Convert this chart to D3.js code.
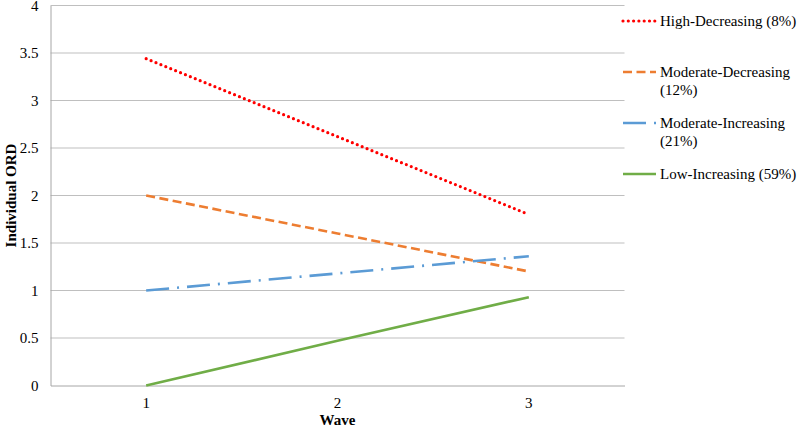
<!DOCTYPE html>
<html>
<head>
<meta charset="utf-8">
<script src="https://cdn.jsdelivr.net/npm/d3@7"></script>
<style>
  body { margin: 0; background: #fff; }
  text { font-family: "Liberation Serif", "Times New Roman", serif; fill: #000; }
</style>
</head>
<body>
<svg id="chart" width="800" height="430"></svg>
<script>
// data
var waves = ["1", "2", "3"];
var yTicks = [0, 0.5, 1, 1.5, 2, 2.5, 3, 3.5, 4];
var highDecreasing = [3.44, 2.62, 1.80];
var moderateDecreasing = [2.00, 1.60, 1.20];
var moderateIncreasing = [1.00, 1.18, 1.36];
var lowIncreasing = [0.00, 0.47, 0.93];
var seriesNames = ["High-Decreasing (8%)", "Moderate-Decreasing (12%)", "Moderate-Increasing (21%)", "Low-Increasing (59%)"];

var series = [
  {name: seriesNames[0], values: highDecreasing, color: "#ff0000", dash: "0,5.3", cap: "round", width: 3.2, label: ["High-Decreasing (8%)"]},
  {name: seriesNames[1], values: moderateDecreasing, color: "#ed7d31", dash: "9,4.5", cap: "butt", width: 2.6, label: ["Moderate-Decreasing", "(12%)"]},
  {name: seriesNames[2], values: moderateIncreasing, color: "#5b9bd5", dash: "23,8,2,8", cap: "butt", width: 2.6, label: ["Moderate-Increasing", "(21%)"]},
  {name: seriesNames[3], values: lowIncreasing, color: "#70ad47", dash: null, cap: "butt", width: 2.6, label: ["Low-Increasing (59%)"]}
];

var svg = d3.select("#chart");
// plot box (note: "top" is taken by window.top, so use plotTop)
var plotLeft = 50.5, plotRight = 624.5, plotTop = 5.5, plotBottom = 385.5;

var x = d3.scaleBand().domain(waves).range([plotLeft, plotRight]);
var y = d3.scaleLinear().domain([0, 4]).range([plotBottom, plotTop]);

// gridlines
svg.append("g").selectAll("line")
  .data(yTicks.filter(function(d) { return d > 0; }))
  .enter().append("line")
  .attr("x1", plotLeft).attr("x2", plotRight)
  .attr("y1", function(d) { return y(d); }).attr("y2", function(d) { return y(d); })
  .attr("stroke", "#bfbfbf").attr("stroke-width", 1);

// y axis
var yAxis = svg.append("g").attr("transform", "translate(" + plotLeft + ",0)")
  .call(d3.axisLeft(y).tickValues(yTicks).tickSize(0).tickPadding(12).tickFormat(d3.format("")));
yAxis.select(".domain").attr("stroke", "#a6a6a6");
yAxis.selectAll("text").style("font-size", "15px");

// x axis
var xAxis = svg.append("g").attr("transform", "translate(0," + plotBottom + ")")
  .call(d3.axisBottom(x).tickSize(0).tickPadding(12));
xAxis.select(".domain").attr("stroke", "#a6a6a6");
xAxis.selectAll("text").style("font-size", "15px");

// axis titles
svg.append("text")
  .attr("transform", "translate(16," + ((plotTop + plotBottom) / 2) + ") rotate(-90)")
  .attr("text-anchor", "middle")
  .style("font-size", "15px").style("font-weight", "bold")
  .text("Individual ORD");
svg.append("text")
  .attr("x", x("2") + x.bandwidth() / 2).attr("y", 425)
  .attr("text-anchor", "middle")
  .style("font-size", "15px").style("font-weight", "bold")
  .text("Wave");

// lines
var line = d3.line()
  .x(function(d, i) { return x(waves[i]) + x.bandwidth() / 2; })
  .y(function(d) { return y(d); });

svg.append("g").selectAll("path")
  .data(series)
  .enter().append("path")
  .attr("d", function(d) { return line(d.values); })
  .attr("fill", "none")
  .attr("stroke", function(d) { return d.color; })
  .attr("stroke-width", function(d) { return d.width; })
  .attr("stroke-linecap", function(d) { return d.cap; })
  .attr("stroke-dasharray", function(d) { return d.dash; });

// legend
var legendY = [21, 72, 123, 174];
var legend = svg.append("g").selectAll("g")
  .data(series)
  .enter().append("g")
  .attr("transform", function(d, i) { return "translate(623," + legendY[i] + ")"; });

legend.append("line")
  .attr("x1", 0).attr("x2", 33).attr("y1", 0).attr("y2", 0)
  .attr("stroke", function(d) { return d.color; })
  .attr("stroke-width", function(d) { return d.width; })
  .attr("stroke-linecap", function(d) { return d.cap; })
  .attr("stroke-dasharray", function(d) { return d.dash; });

legend.each(function(d) {
  var t = d3.select(this).append("text")
    .attr("x", 37).attr("y", 0)
    .style("font-size", "15px");
  d.label.forEach(function(s, j) {
    t.append("tspan").attr("x", 37).attr("dy", j === 0 ? "0.35em" : "1.2em").text(s);
  });
});
</script>
</body>
</html>
